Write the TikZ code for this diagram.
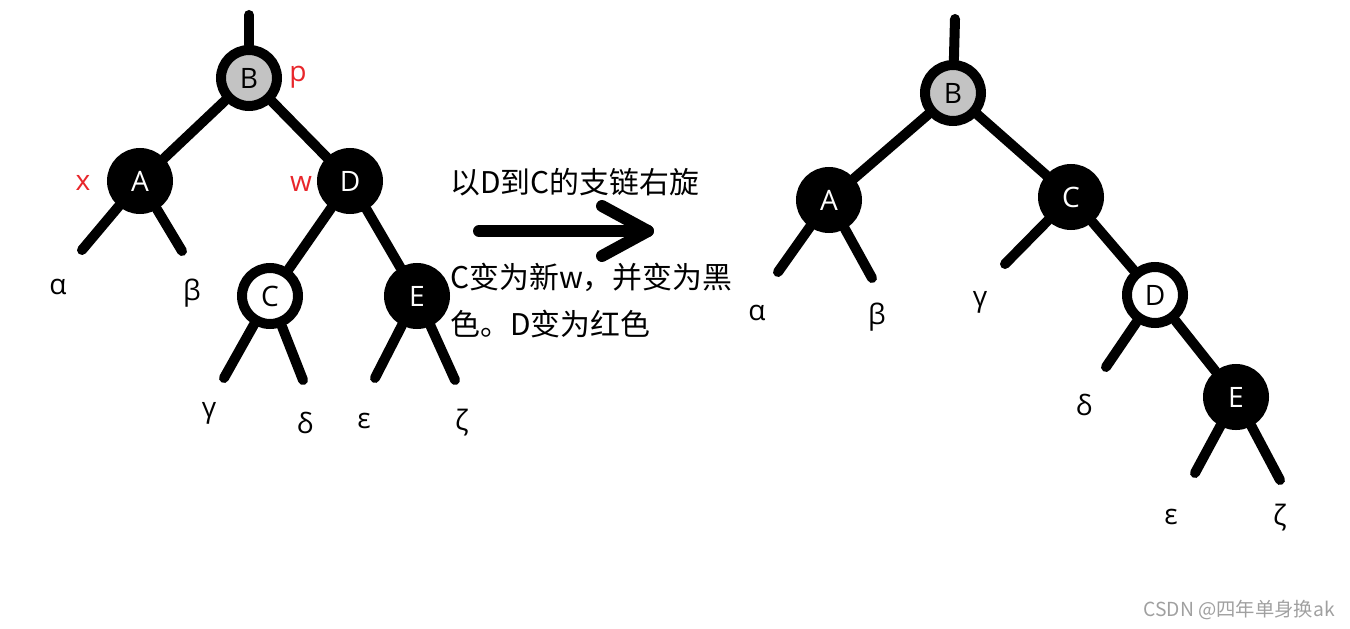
\documentclass[tikz,border=0pt]{standalone}
\usepackage{fontspec}
\setmainfont{Open Sans}
\newfontfamily\cjk{Noto Sans CJK SC}
\usetikzlibrary{positioning}
\definecolor{redC}{HTML}{E8262B}
\definecolor{grayC}{HTML}{C3C3C3}
\definecolor{markC}{HTML}{A0A0A0}

\begin{document}
\begin{tikzpicture}[
  x=0.02cm, y=-0.02cm,
  every node/.style={font=\fontsize{16}{16}\selectfont, text=black},
  rbnode/.style={circle, draw=black, line width=5.7pt, minimum size=1.12cm,
    inner sep=0pt, fill=#1},
  blacknode/.style={rbnode=black, text=white},
  branch/.style={line width=5.7pt, line cap=round},
  tag/.style={text=redC, inner sep=0pt},
  leaf/.style={inner sep=0pt},
  turn/.style={line width=6.8pt, line cap=round, line join=round},
  note/.style={font=\cjk\fontsize{17}{26.6}\selectfont, inner sep=0pt, align=left},
]
\useasboundingbox (0,0) rectangle (1350,629);

% ── Left tree: before the turn ──
\node[rbnode=grayC] (lB) at (249,78) {B};
\node[blacknode] (lA) at (140,181) {A};
\node[blacknode] (lD) at (350,181) {D};
\node[rbnode=white] (lC) at (270,296) {C};
\node[blacknode] (lE) at (417,296) {E};

\node[tag] (lp) at (298,77) {p};
\node[tag] (lx) at (83,183) {x};
\node[tag] (lw) at (301,184) {w};

\coordinate (lTop) at (249,15);
\coordinate (lAa) at (82,250);
\coordinate (lAb) at (182,251);
\coordinate (lCa) at (224,378);
\coordinate (lCb) at (303,380);
\coordinate (lEa) at (375,378);
\coordinate (lEb) at (455,380);

\draw[branch] (lTop) -- (lB);
\draw[branch] (lB) -- (lA);
\draw[branch] (lB) -- (lD);
\draw[branch] (lD) -- (lC);
\draw[branch] (lD) -- (lE);
\draw[branch] (lA) -- (lAa);
\draw[branch] (lA) -- (lAb);
\draw[branch] (lC) -- (lCa);
\draw[branch] (lC) -- (lCb);
\draw[branch] (lE) -- (lEa);
\draw[branch] (lE) -- (lEb);

\node[leaf] (lal) at (58,287) {α};
\node[leaf] (lbe) at (192,293) {β};
\node[leaf] (lga) at (209,413) {γ};
\node[leaf] (lde) at (305,423) {δ};
\node[leaf] (lep) at (364,421) {ε};
\node[leaf] (lze) at (462,423) {ζ};

% ── Turn arrow and notes ──
\node[note, anchor=base west] (title) at (450,193) {以D到C的支链右旋};
\coordinate (arrS) at (479,231);
\coordinate (arrE) at (648,231);
\coordinate (arrU) at (602,206);
\coordinate (arrL) at (602,256);
\draw[turn] (arrS) -- (arrE);
\draw[turn] (arrU) -- (arrE) -- (arrL);
\node[note, anchor=north west] (steps) at (450,263)
      {C变为新w，并变为黑\\色。D变为红色};

% ── Right tree: after the turn ──
\node[rbnode=grayC] (rB) at (953,93) {B};
\node[blacknode] (rA) at (829,200) {A};
\node[blacknode] (rC) at (1071,197) {C};
\node[rbnode=white] (rD) at (1155,295) {D};
\node[blacknode] (rE) at (1236,397) {E};

\coordinate (rTop) at (955,19);
\coordinate (rAa) at (778,272);
\coordinate (rAb) at (872,278);
\coordinate (rCa) at (1005,264);
\coordinate (rDa) at (1106,367);
\coordinate (rEa) at (1195,473);
\coordinate (rEb) at (1280,480);

\draw[branch] (rTop) -- (rB);
\draw[branch] (rB) -- (rA);
\draw[branch] (rB) -- (rC);
\draw[branch] (rC) -- (rD);
\draw[branch] (rD) -- (rE);
\draw[branch] (rA) -- (rAa);
\draw[branch] (rA) -- (rAb);
\draw[branch] (rC) -- (rCa);
\draw[branch] (rD) -- (rDa);
\draw[branch] (rE) -- (rEa);
\draw[branch] (rE) -- (rEb);

\node[leaf] (ral) at (757,313) {α};
\node[leaf] (rbe) at (877,317) {β};
\node[leaf] (rga) at (980,302) {γ};
\node[leaf] (rde) at (1084,405) {δ};
\node[leaf] (rep) at (1171,517) {ε};
\node[leaf] (rze) at (1280,518) {ζ};

% ── Watermark ──
\node[font=\cjk\fontsize{11}{11}\selectfont, text=markC, anchor=west, inner sep=0pt]
      (mark) at (1143,610) {CSDN @四年单身换ak};

\end{tikzpicture}
\end{document}
